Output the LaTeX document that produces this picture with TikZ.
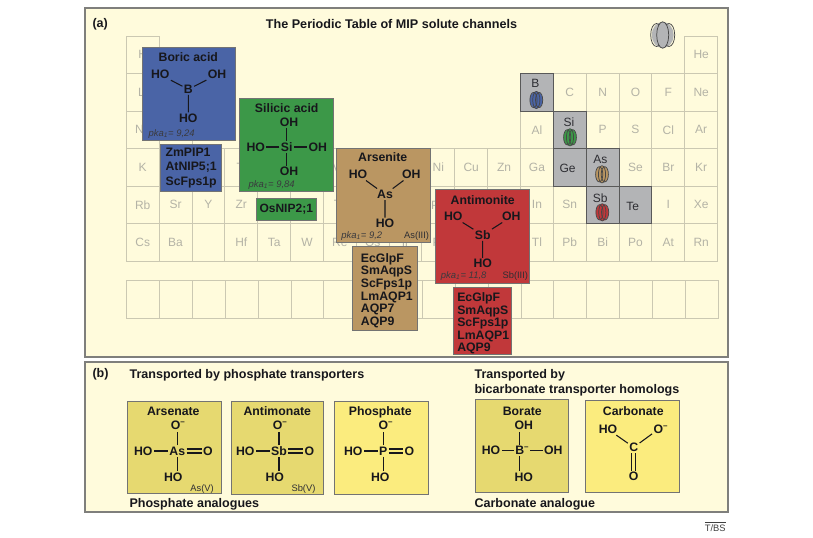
\documentclass[tikz,border=0pt]{standalone}
\usepackage{fontspec}
\setmainfont{Liberation Sans}
\definecolor{panelfill}{HTML}{FFFBDC}
\definecolor{panelline}{HTML}{7F7F7C}
\definecolor{gridline}{HTML}{CBC8B2}
\definecolor{celltext}{HTML}{B4B3A6}
\definecolor{grayfill}{HTML}{B3B4B6}
\definecolor{borefill}{HTML}{4A64A6}
\definecolor{silifill}{HTML}{3C9848}
\definecolor{arsefill}{HTML}{BA9662}
\definecolor{antifill}{HTML}{C1383A}
\definecolor{analog}{HTML}{E6D970}
\definecolor{phosfill}{HTML}{FBEC7E}
\definecolor{ink}{HTML}{17171C}
\tikzset{
  x=0.75pt,y=-0.75pt,
  panel/.style={draw=panelline,fill=panelfill,line width=0.95pt,inner sep=0,outer sep=0},
  cell/.style={draw=gridline,line width=0.7pt,inner sep=0,minimum width=24.64pt,minimum height=28.13pt,text=celltext,font=\fontsize{9}{10}\selectfont},
  graycell/.style={draw=black!65,fill=grayfill,line width=0.7pt,inner sep=0,minimum width=24.64pt,minimum height=28.13pt},
  celllabel/.style={inner sep=0,text=ink!90,font=\fontsize{9}{10}\selectfont},
  box/.style={draw=black!55,line width=0.7pt,inner sep=0,outer sep=0},
  atom/.style={inner sep=0.9pt,text=ink,font=\bfseries\fontsize{9.2}{10}\selectfont},
  boxtitle/.style={inner sep=0,text depth=0pt,text=ink,font=\bfseries\fontsize{9.2}{10}\selectfont},
  head/.style={inner sep=0,text depth=0pt,anchor=west,text=ink,font=\bfseries\fontsize{9.4}{10}\selectfont},
  panellabel/.style={inner sep=0,anchor=west,text=ink,font=\bfseries\fontsize{9.4}{10}\selectfont},
  genes/.style={inner sep=0,anchor=west,align=left,text=ink,font=\bfseries\fontsize{9.2}{9.45}\selectfont},
  wgenes/.style={inner sep=0,anchor=west,align=left,text=ink,font=\bfseries\fontsize{9.2}{10.75}\selectfont},
  pka/.style={inner sep=0,anchor=west,text=ink!85,font=\itshape\fontsize{7.1}{8}\selectfont},
  ox/.style={inner sep=0,anchor=east,text=ink!90,font=\fontsize{7}{8}\selectfont},
  bond/.style={draw=ink,line width=0.8pt},
  chan/.style={draw=black!72,line width=0.55pt},
}
\newcommand{\bx}[6]{\node[box,fill=#6,minimum width={(#4-#2)*0.75pt},minimum height={(#5-#3)*0.75pt}] (#1) at ({(#2+#4)/2},{(#3+#5)/2}) {};}
\newcommand{\negion}[1]{#1\rlap{\raisebox{0.42em}{\fontsize{6}{6}\selectfont –}}}
\newcommand{\smallchan}[3]{%
  \fill[#3] (#1,#2) ellipse (6.5 and 8.5);
  \draw[chan] (#1-2.8,#2) ellipse (3.6 and 7.6);
  \draw[chan] (#1+2.8,#2) ellipse (3.6 and 7.6);
  \draw[chan] (#1,#2) ellipse (3.6 and 8.6);
}
\begin{document}
\begin{tikzpicture}
\useasboundingbox (0,0) rectangle (813,537);
\fill[white] (0,0) rectangle (813,537);
% panels
\node[panel,minimum width=482.25pt,minimum height=261.75pt] (pa) at (406.5,182.5) {};
\node[panel,minimum width=482.25pt,minimum height=112.5pt] (pb) at (406.5,437) {};
% periodic table
\foreach \s/\c/\r in {H/1/1,He/18/1,Li/1/2,Be/2/2,C/14/2,N/15/2,O/16/2,F/17/2,Ne/18/2,
  Na/1/3,Mg/2/3,Al/13/3,P/15/3,S/16/3,Cl/17/3,Ar/18/3,
  K/1/4,Ca/2/4,Sc/3/4,Ti/4/4,V/5/4,Cr/6/4,Mn/7/4,Fe/8/4,Co/9/4,Ni/10/4,Cu/11/4,Zn/12/4,Ga/13/4,Se/16/4,Br/17/4,Kr/18/4,
  Rb/1/5,Sr/2/5,Y/3/5,Zr/4/5,Nb/5/5,Mo/6/5,Tc/7/5,Ru/8/5,Rh/9/5,Pd/10/5,Ag/11/5,Cd/12/5,In/13/5,Sn/14/5,I/17/5,Xe/18/5,
  Cs/1/6,Ba/2/6,/3/6,Hf/4/6,Ta/5/6,W/6/6,Re/7/6,Os/8/6,Ir/9/6,Pt/10/6,Au/11/6,Hg/12/6,Tl/13/6,Pb/14/6,Bi/15/6,Po/16/6,At/17/6,Rn/18/6}
  {\node[cell] (c\c-\r) at ({126.3+32.85*(\c-0.5)},{36+37.5*(\r-0.5)}) {\s};}
\foreach \c in {1,...,18}
  {\node[cell] (f\c) at ({126.8+32.85*(\c-0.5)},299.5) {};}
% highlighted cells
\node[graycell] (gB) at ({126.3+32.85*12.5},92.25) {};
\node[graycell] (gSi) at ({126.3+32.85*13.5},129.75) {};
\node[graycell] (gGe) at ({126.3+32.85*13.5},167.25) {};
\node[graycell] (gAs) at ({126.3+32.85*14.5},167.25) {};
\node[graycell] (gSb) at ({126.3+32.85*14.5},204.75) {};
\node[graycell] (gTe) at ({126.3+32.85*15.5},204.75) {};
\node[celllabel] (lB) at (535.3,83.3) {B};
\node[celllabel] (lSi) at (569,122.3) {Si};
\node[celllabel] (lGe) at (567.5,168.3) {Ge};
\node[celllabel] (lAs) at (600.3,159.3) {As};
\node[celllabel] (lSb) at (600.3,198.3) {Sb};
\node[celllabel] (lTe) at (632.7,206) {Te};
% channels
\smallchan{536.3}{100}{borefill}
\smallchan{570}{137.3}{silifill}
\smallchan{602}{174.3}{arsefill}
\smallchan{602.3}{212.3}{antifill}
\fill[grayfill] (662.7,35) ellipse (11 and 13);
\draw[chan] (656.5,35) ellipse (5.8 and 11.5);
\draw[chan] (668.9,35) ellipse (5.8 and 11.5);
\draw[chan,fill=grayfill] (662.7,35) ellipse (6 and 13.2);
% headings
\node[panellabel] (la) at (92.3,24) {(a)};
\node[boxtitle,font=\bfseries\fontsize{9.45}{10}\selectfont] (title) at (391.5,24) {The Periodic Table of MIP solute channels};
% boric acid
\bx{boric}{142.3}{47.3}{235.7}{140.7}{borefill}
\node[boxtitle] (t1) at (188.3,56.7) {Boric acid};
\node[atom] (b1) at (160.3,74.7) {HO};
\node[atom] (b2) at (217,74.7) {OH};
\node[atom] (b0) at (188.3,89.3) {B};
\node[atom] (b3) at (188.3,118.3) {HO};
\draw[bond] (b0)--(b1) (b0)--(b2) (b0)--(b3);
\node[pka] (pk1) at (148.3,134) {pka\textsubscript{1}= 9,24};
\bx{zm}{160.3}{144.3}{221}{191.3}{borefill}
\node[wgenes] (g1) at (165.3,168) {ZmPIP1\\AtNIP5;1\\ScFps1p};
% silicic acid
\bx{sil}{239.7}{98}{333.3}{191.3}{silifill}
\node[boxtitle] (t2) at (286.7,108.3) {Silicic acid};
\node[atom] (s0) at (286.7,147) {Si};
\node[atom] (s1) at (289,122) {OH};
\node[atom] (s2) at (255.7,147) {HO};
\node[atom] (s3) at (317.7,147) {OH};
\node[atom] (s4) at (289,171.3) {OH};
\draw[bond] (s0.north)--(s0.north|-s1.south) (s0.south)--(s0.south|-s4.north) (s0)--(s2) (s0)--(s3);
\node[pka] (pk2) at (248.3,184.7) {pka\textsubscript{1}= 9,84};
\bx{os}{256.3}{198.3}{316.7}{220.3}{silifill}
\node[genes,font=\bfseries\fontsize{9}{9.45}\selectfont] (g2) at (259.3,209.5) {OsNIP2;1};
% arsenite
\bx{ars}{336.7}{148.7}{430.7}{242}{arsefill}
\node[boxtitle] (t3) at (382.7,156.7) {Arsenite};
\node[atom] (a1) at (358,174.7) {HO};
\node[atom] (a2) at (411.3,174.7) {OH};
\node[atom] (a0) at (385,194.3) {As};
\node[atom] (a3) at (385,223.3) {HO};
\draw[bond] (a0)--(a1) (a0)--(a2) (a0)--(a3);
\node[pka] (pk3) at (341,235.7) {pka\textsubscript{1}= 9,2};
\node[ox] (ox3) at (429.3,235.7) {As(III)};
\bx{gars}{352}{246.7}{417.3}{330.3}{arsefill}
\node[genes] (g3) at (360.7,290.5) {EcGlpF\\SmAqpS\\ScFps1p\\LmAQP1\\AQP7\\AQP9};
% antimonite
\bx{ant}{435.7}{189.7}{529}{283}{antifill}
\node[boxtitle] (t4) at (482.7,200) {Antimonite};
\node[atom] (n1) at (453.3,216.7) {HO};
\node[atom] (n2) at (511.3,216.7) {OH};
\node[atom] (n0) at (482.7,235) {Sb};
\node[atom] (n3) at (482.7,263.7) {HO};
\draw[bond] (n0)--(n1) (n0)--(n2) (n0)--(n3);
\node[pka] (pk4) at (440.7,276) {pka\textsubscript{1}= 11,8};
\node[ox] (ox4) at (528.3,276) {Sb(III)};
\bx{gant}{453.3}{287.7}{511.7}{354}{antifill}
\node[genes] (g4) at (457,323.4) {EcGlpF\\SmAqpS\\ScFps1p\\LmAQP1\\AQP9};
% panel b headings
\node[panellabel] (lb) at (92.3,374.7) {(b)};
\node[head] (h1) at (129.3,374.3) {Transported by phosphate transporters};
\node[head] (h2) at (129.3,502.7) {Phosphate analogues};
\node[head] (h3) at (474.3,374.3) {Transported by};
\node[head] (h4) at (474.3,389) {bicarbonate transporter homologs};
\node[head] (h5) at (474.3,503.3) {Carbonate analogue};
% arsenate
\bx{asn}{127.3}{401.3}{221.7}{493.7}{analog}
\node[boxtitle] (t5) at (173.3,411) {Arsenate};
\node[atom] (p0) at (177.3,451) {As};
\node[atom] (p1) at (175.7,425.7) {\negion{O}};
\node[atom] (p2) at (143.3,451) {HO};
\node[atom] (p3) at (208,451) {O};
\node[atom] (p4) at (173.3,477) {HO};
\draw[bond] (p0.north)--(p0.north|-p1.south) (p0.south)--(p0.south|-p4.north) (p0)--(p2);
\draw[bond] ([yshift=1.5pt]p0.east)--([yshift=1.5pt]p3.west) ([yshift=-1.5pt]p0.east)--([yshift=-1.5pt]p3.west);
\node[ox] (ox5) at (214,488.7) {As(V)};
% antimonate
\bx{anm}{231}{401.3}{323.7}{494.7}{analog}
\node[boxtitle] (t6) at (277.3,411) {Antimonate};
\node[atom] (q0) at (279,451) {Sb};
\node[atom] (q1) at (277.7,425.7) {\negion{O}};
\node[atom] (q2) at (245.3,451) {HO};
\node[atom] (q3) at (309.3,451) {O};
\node[atom] (q4) at (274.7,477) {HO};
\draw[bond] (q0.north)--(q0.north|-q1.south) (q0.south)--(q0.south|-q4.north) (q0)--(q2);
\draw[bond] ([yshift=1.5pt]q0.east)--([yshift=1.5pt]q3.west) ([yshift=-1.5pt]q0.east)--([yshift=-1.5pt]q3.west);
\node[ox] (ox6) at (315.7,489) {Sb(V)};
% phosphate
\bx{pho}{334.7}{401}{428}{494}{phosfill}
\node[boxtitle] (t7) at (380.3,411) {Phosphate};
\node[atom] (r0) at (383.3,451) {P};
\node[atom] (r1) at (383.3,425.7) {\negion{O}};
\node[atom] (r2) at (353.3,451) {HO};
\node[atom] (r3) at (409.3,451) {O};
\node[atom] (r4) at (380.3,477) {HO};
\draw[bond] (r0.north)--(r0.north|-r1.south) (r0.south)--(r0.south|-r4.north) (r0)--(r2);
\draw[bond] ([yshift=1.5pt]r0.east)--([yshift=1.5pt]r3.west) ([yshift=-1.5pt]r0.east)--([yshift=-1.5pt]r3.west);
% borate
\bx{bor}{475.3}{399.7}{568}{492.3}{analog}
\node[boxtitle] (t8) at (522.3,411) {Borate};
\node[atom] (u0) at (519.7,450.7) {\negion{B}};
\node[atom] (u1) at (523.7,425.7) {OH};
\node[atom] (u2) at (491,450.7) {HO};
\node[atom] (u3) at (553.3,450.7) {OH};
\node[atom] (u4) at (523.7,477) {HO};
\draw[bond] (u0.north)--(u0.north|-u1.south) (u0.south)--(u0.south|-u4.north) (u0)--(u2) ([xshift=3.5pt]u0.east)--(u3);
% carbonate
\bx{car}{585.3}{400}{679}{492.5}{phosfill}
\node[boxtitle] (t9) at (633.3,411) {Carbonate};
\node[atom] (v0) at (633.7,447.3) {C};
\node[atom] (v1) at (608,429.3) {HO};
\node[atom] (v2) at (658.3,429.3) {\negion{O}};
\node[atom] (v3) at (633.7,476.3) {O};
\draw[bond] (v0)--(v1) (v0)--(v2);
\draw[bond] ([xshift=-1.5pt]v0.south)--([xshift=-1.5pt]v3.north) ([xshift=1.5pt]v0.south)--([xshift=1.5pt]v3.north);
% credit
\node[inner sep=0,text=black!75,font=\fontsize{7}{8}\selectfont] (cr) at (715.3,526.5) {$\overline{\hbox{T/BS}}$};
\end{tikzpicture}
\end{document}
